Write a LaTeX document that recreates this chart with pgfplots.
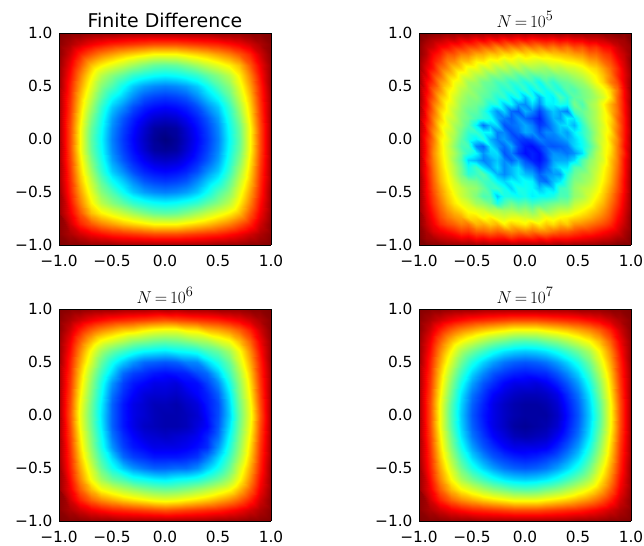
\documentclass[border=0pt]{standalone}
\usepackage[no-math]{fontspec}
\setmainfont{DejaVu Sans}
\usepackage{pgfplots}
\pgfplotsset{compat=1.18}
\pgfplotsset{colormap={jetx}{rgb(0)=(0,0,.5) rgb(11)=(0,0,1) rgb(35)=(0,1,1) rgb(50)=(.5,1,.5) rgb(65)=(1,1,0) rgb(89)=(1,0,0) rgb(100)=(.5,0,0)}}
\pgfplotsset{heat/.style={
  scale only axis,width=212bp,height=212bp,view={0}{90},
  xmin=-1,xmax=1,ymin=-1,ymax=1,axis on top,
  xtick={-1,-.5,0,.5,1},ytick={-1,-.5,0,.5,1},
  xticklabels={−1.0,−0.5,0.0,0.5,1.0},yticklabels={−1.0,−0.5,0.0,0.5,1.0},
  tick label style={font=\fontsize{15.4}{17}\selectfont,black},
  title style={font=\fontsize{19}{22}\selectfont,at={(.5,1)},anchor=base,yshift=0bp},
  major tick length=0bp,
  axis line style={black,line width=.6bp},
  xticklabel style={yshift=-7bp},yticklabel style={xshift=-3bp},
  point meta min=0,point meta max=100,colormap name=jetx,anchor=south west}}
\pgfplotsset{cell/.style={surf,shader=interp,mesh/cols=21}}
\begin{document}
\begin{tikzpicture}
\path[use as bounding box] (0bp,0bp) rectangle (644bp,546bp);
\begin{axis}[heat,at={(59bp,301bp)},title={Finite Difference}]
\addplot3[cell] table[row sep=\\,header=false,x expr={mod(\coordindex,21)/10-1},y expr={1-floor(\coordindex/21)/10},z index=0]{
100\\99\\99\\98\\98\\98\\97\\97\\97\\97\\97\\97\\97\\97\\97\\98\\98\\98\\99\\99\\100\\
99\\96\\93\\90\\88\\86\\85\\84\\83\\82\\82\\82\\83\\84\\85\\86\\88\\90\\93\\96\\99\\
99\\93\\86\\81\\77\\74\\71\\69\\67\\65\\65\\65\\67\\69\\71\\74\\77\\81\\86\\93\\99\\
98\\90\\81\\71\\66\\62\\58\\54\\50\\47\\46\\47\\50\\54\\58\\62\\66\\71\\81\\90\\98\\
98\\88\\77\\66\\57\\51\\46\\41\\38\\36\\35\\36\\38\\41\\46\\51\\57\\66\\77\\88\\98\\
98\\86\\74\\62\\51\\44\\36\\30\\26\\24\\23\\24\\26\\30\\36\\44\\51\\62\\74\\86\\98\\
97\\85\\71\\58\\46\\36\\30\\24\\19\\17\\16\\17\\19\\24\\30\\36\\46\\58\\71\\85\\97\\
97\\84\\69\\54\\41\\30\\24\\18\\14\\12\\11\\12\\14\\18\\24\\30\\41\\54\\69\\84\\97\\
97\\83\\67\\50\\38\\26\\19\\14\\10\\7\\6\\7\\10\\14\\19\\26\\38\\50\\67\\83\\97\\
97\\82\\65\\47\\36\\24\\17\\12\\7\\3\\2\\3\\7\\12\\17\\24\\36\\47\\65\\82\\97\\
97\\82\\65\\46\\35\\23\\16\\11\\6\\2\\0\\2\\6\\11\\16\\23\\35\\46\\65\\82\\97\\
97\\82\\65\\47\\36\\24\\17\\12\\7\\3\\2\\3\\7\\12\\17\\24\\36\\47\\65\\82\\97\\
97\\83\\67\\50\\38\\26\\19\\14\\10\\7\\6\\7\\10\\14\\19\\26\\38\\50\\67\\83\\97\\
97\\84\\69\\54\\41\\30\\24\\18\\14\\12\\11\\12\\14\\18\\24\\30\\41\\54\\69\\84\\97\\
97\\85\\71\\58\\46\\36\\30\\24\\19\\17\\16\\17\\19\\24\\30\\36\\46\\58\\71\\85\\97\\
98\\86\\74\\62\\51\\44\\36\\30\\26\\24\\23\\24\\26\\30\\36\\44\\51\\62\\74\\86\\98\\
98\\88\\77\\66\\57\\51\\46\\41\\38\\36\\35\\36\\38\\41\\46\\51\\57\\66\\77\\88\\98\\
98\\90\\81\\71\\66\\62\\58\\54\\50\\47\\46\\47\\50\\54\\58\\62\\66\\71\\81\\90\\98\\
99\\93\\86\\81\\77\\74\\71\\69\\67\\65\\65\\65\\67\\69\\71\\74\\77\\81\\86\\93\\99\\
99\\96\\93\\90\\88\\86\\85\\84\\83\\82\\82\\82\\83\\84\\85\\86\\88\\90\\93\\96\\99\\
100\\99\\99\\98\\98\\98\\97\\97\\97\\97\\97\\97\\97\\97\\97\\98\\98\\98\\99\\99\\100\\
};
\end{axis}
\begin{axis}[heat,at={(419bp,301bp)},title={$N\,{=}\,10^5$}]
\addplot3[surf,shader=interp,mesh/cols=31] table[row sep=\\,header=false,x expr={mod(\coordindex,31)/15-1},y expr={1-floor(\coordindex/31)/15},z index=0]{
100\\100\\99\\99\\98\\98\\98\\98\\97\\97\\97\\97\\97\\97\\96\\97\\96\\97\\97\\97\\98\\97\\98\\98\\98\\98\\99\\99\\100\\99\\100\\
100\\97\\95\\94\\92\\93\\90\\91\\88\\90\\87\\89\\86\\88\\86\\88\\86\\87\\88\\87\\89\\88\\90\\90\\92\\92\\93\\95\\96\\97\\100\\
99\\95\\93\\89\\88\\85\\85\\82\\82\\79\\80\\76\\79\\76\\78\\75\\78\\76\\79\\77\\80\\78\\82\\81\\85\\84\\88\\89\\93\\96\\98\\
99\\95\\89\\86\\81\\81\\77\\77\\73\\73\\70\\71\\68\\69\\66\\69\\67\\69\\68\\70\\71\\72\\74\\75\\79\\79\\83\\85\\91\\94\\98\\
98\\93\\87\\83\\77\\76\\71\\71\\66\\67\\63\\64\\60\\63\\60\\62\\61\\60\\62\\63\\64\\66\\67\\69\\73\\74\\79\\82\\88\\93\\99\\
98\\91\\87\\79\\76\\70\\69\\63\\63\\58\\60\\55\\57\\53\\56\\52\\55\\54\\53\\57\\56\\59\\60\\63\\67\\69\\74\\79\\85\\92\\98\\
97\\92\\83\\79\\71\\69\\62\\61\\56\\55\\50\\51\\48\\49\\45\\48\\45\\47\\49\\48\\51\\52\\55\\58\\62\\66\\71\\77\\85\\91\\97\\
98\\89\\84\\75\\71\\64\\61\\54\\53\\48\\47\\43\\44\\40\\42\\38\\42\\36\\44\\40\\45\\47\\50\\53\\58\\64\\69\\77\\82\\91\\98\\
97\\90\\80\\75\\67\\63\\57\\54\\50\\48\\45\\43\\39\\41\\36\\41\\34\\40\\36\\41\\38\\45\\44\\49\\52\\58\\63\\69\\78\\89\\98\\
98\\88\\81\\71\\67\\60\\55\\51\\51\\46\\44\\39\\41\\33\\38\\29\\38\\27\\36\\34\\44\\39\\46\\48\\51\\55\\60\\67\\79\\89\\97\\
97\\89\\78\\72\\64\\60\\53\\50\\48\\45\\38\\39\\30\\35\\26\\24\\32\\24\\34\\34\\38\\36\\49\\44\\53\\57\\65\\72\\79\\88\\98\\
98\\87\\79\\69\\64\\57\\52\\47\\46\\40\\32\\25\\31\\21\\19\\28\\24\\17\\24\\30\\26\\23\\43\\47\\51\\56\\63\\71\\78\\88\\97\\
96\\88\\77\\70\\61\\58\\51\\48\\43\\40\\37\\27\\23\\20\\25\\21\\18\\14\\21\\28\\26\\35\\33\\44\\51\\56\\63\\68\\79\\87\\97\\
97\\86\\78\\67\\63\\55\\51\\45\\34\\22\\29\\32\\19\\21\\23\\27\\23\\16\\19\\25\\31\\33\\28\\40\\49\\55\\61\\69\\77\\87\\97\\
96\\88\\76\\69\\60\\56\\48\\41\\41\\35\\35\\23\\24\\18\\21\\27\\25\\19\\24\\24\\29\\26\\34\\40\\46\\54\\62\\67\\78\\87\\96\\
97\\86\\78\\67\\62\\54\\46\\39\\34\\39\\28\\23\\26\\21\\17\\16\\18\\23\\21\\22\\24\\27\\31\\37\\46\\55\\61\\69\\76\\87\\97\\
96\\87\\77\\68\\60\\52\\44\\43\\24\\21\\33\\26\\21\\27\\18\\13\\12\\16\\20\\19\\20\\22\\31\\36\\43\\52\\62\\67\\77\\88\\96\\
97\\87\\76\\68\\61\\55\\47\\40\\35\\25\\31\\32\\19\\23\\16\\12\\14\\12\\19\\25\\24\\22\\25\\32\\46\\55\\62\\68\\77\\86\\97\\
97\\86\\77\\69\\62\\53\\45\\31\\28\\23\\26\\30\\24\\20\\25\\18\\14\\12\\17\\26\\27\\27\\32\\44\\51\\56\\61\\70\\77\\88\\97\\
97\\88\\78\\70\\63\\56\\48\\37\\42\\32\\26\\32\\24\\28\\32\\23\\21\\15\\20\\28\\33\\33\\44\\46\\53\\57\\64\\70\\78\\88\\97\\
98\\88\\79\\71\\65\\57\\49\\40\\42\\45\\36\\28\\24\\28\\33\\29\\27\\20\\24\\26\\26\\39\\47\\51\\53\\59\\65\\71\\79\\88\\98\\
98\\89\\80\\72\\66\\60\\53\\50\\48\\43\\41\\35\\31\\35\\33\\36\\34\\23\\21\\29\\33\\42\\50\\52\\55\\60\\66\\72\\80\\89\\98\\
98\\89\\81\\74\\68\\62\\58\\54\\52\\47\\41\\42\\37\\31\\38\\37\\35\\29\\33\\31\\42\\44\\52\\56\\58\\62\\68\\74\\81\\89\\98\\
98\\90\\83\\76\\70\\65\\59\\55\\50\\44\\44\\30\\38\\38\\36\\38\\34\\36\\36\\38\\44\\44\\52\\55\\60\\65\\70\\76\\83\\90\\98\\
98\\91\\84\\78\\72\\67\\63\\60\\54\\52\\48\\38\\44\\48\\44\\46\\42\\44\\46\\48\\50\\50\\57\\60\\63\\68\\72\\78\\84\\91\\98\\
98\\92\\86\\80\\75\\71\\68\\64\\62\\60\\56\\56\\54\\55\\52\\54\\50\\56\\52\\55\\58\\58\\62\\65\\68\\71\\75\\80\\86\\92\\98\\
99\\93\\88\\82\\78\\75\\73\\68\\68\\64\\66\\62\\60\\62\\62\\60\\58\\60\\64\\62\\65\\66\\68\\70\\72\\75\\78\\82\\88\\93\\99\\
99\\94\\90\\85\\82\\80\\77\\78\\72\\73\\70\\72\\66\\70\\68\\66\\70\\66\\70\\68\\72\\70\\75\\76\\78\\80\\82\\85\\90\\94\\99\\
99\\96\\92\\90\\88\\86\\83\\84\\80\\80\\78\\80\\78\\76\\78\\76\\78\\76\\76\\78\\80\\80\\82\\84\\84\\86\\88\\90\\92\\96\\99\\
100\\97\\96\\94\\93\\92\\90\\91\\88\\89\\87\\88\\88\\85\\87\\87\\86\\88\\86\\88\\88\\88\\89\\90\\91\\92\\93\\94\\96\\97\\100\\
100\\100\\99\\99\\98\\98\\98\\98\\97\\98\\97\\97\\97\\97\\97\\97\\97\\97\\97\\97\\98\\97\\98\\98\\98\\98\\99\\99\\100\\100\\100\\
};
\end{axis}
\begin{axis}[heat,at={(59bp,25bp)},title={$N\,{=}\,10^6$}]
\addplot3[cell] table[row sep=\\,header=false,x expr={mod(\coordindex,21)/10-1},y expr={1-floor(\coordindex/21)/10},z index=0]{
100\\99\\99\\98\\98\\98\\97\\97\\97\\96\\97\\96\\97\\97\\97\\98\\98\\98\\99\\99\\100\\
99\\96\\93\\90\\88\\86\\85\\84\\83\\82\\81\\82\\83\\84\\85\\86\\88\\90\\93\\96\\99\\
99\\93\\86\\80\\76\\73\\70\\69\\66\\64\\63\\63\\66\\67\\71\\73\\76\\80\\86\\93\\99\\
98\\90\\80\\71\\64\\60\\56\\52\\50\\48\\47\\48\\50\\53\\55\\60\\64\\71\\80\\90\\98\\
98\\88\\76\\64\\54\\47\\42\\38\\35\\34\\33\\35\\36\\38\\43\\47\\54\\64\\76\\88\\98\\
98\\86\\73\\60\\47\\37\\30\\25\\21\\20\\19\\20\\23\\24\\31\\38\\47\\60\\73\\86\\98\\
97\\85\\70\\55\\42\\31\\21\\17\\15\\13\\12\\13\\14\\18\\21\\30\\42\\55\\70\\85\\97\\
97\\84\\68\\52\\38\\25\\17\\13\\11\\9\\9\\8\\11\\12\\17\\24\\37\\52\\68\\84\\97\\
97\\83\\66\\50\\36\\22\\15\\11\\8\\7\\7\\6\\8\\11\\14\\20\\33\\50\\66\\83\\97\\
97\\82\\64\\48\\34\\20\\13\\9\\7\\5\\5\\4\\6\\8\\13\\18\\31\\48\\64\\82\\97\\
97\\81\\63\\47\\33\\20\\13\\9\\7\\5\\4\\4\\5\\7\\12\\18\\30\\47\\63\\81\\97\\
97\\82\\64\\48\\34\\20\\13\\9\\6\\5\\4\\4\\5\\8\\11\\19\\32\\48\\64\\82\\97\\
97\\83\\66\\50\\36\\22\\15\\11\\8\\7\\6\\7\\8\\10\\14\\21\\35\\50\\66\\83\\97\\
97\\84\\68\\52\\38\\25\\17\\13\\11\\9\\9\\9\\10\\12\\15\\25\\38\\52\\68\\84\\97\\
97\\85\\70\\55\\42\\31\\21\\17\\15\\13\\13\\13\\14\\16\\22\\31\\42\\55\\70\\85\\97\\
98\\86\\73\\60\\47\\37\\30\\25\\22\\20\\20\\21\\21\\24\\30\\37\\47\\60\\73\\86\\98\\
98\\88\\76\\64\\54\\47\\43\\38\\36\\34\\33\\35\\36\\38\\42\\47\\54\\64\\76\\88\\98\\
98\\90\\80\\71\\64\\60\\56\\53\\50\\48\\47\\48\\50\\53\\56\\60\\64\\71\\80\\90\\98\\
99\\93\\86\\80\\76\\73\\70\\68\\66\\64\\63\\64\\66\\68\\70\\73\\76\\80\\86\\93\\99\\
99\\96\\93\\90\\88\\86\\85\\84\\83\\82\\81\\82\\83\\84\\85\\86\\88\\90\\93\\96\\99\\
100\\99\\99\\98\\98\\98\\97\\97\\97\\97\\97\\97\\97\\97\\97\\98\\98\\98\\99\\99\\100\\
};
\end{axis}
\begin{axis}[heat,at={(419bp,25bp)},title={$N\,{=}\,10^7$}]
\addplot3[cell] table[row sep=\\,header=false,x expr={mod(\coordindex,21)/10-1},y expr={1-floor(\coordindex/21)/10},z index=0]{
100\\99\\99\\98\\98\\98\\97\\97\\97\\97\\97\\97\\97\\97\\97\\98\\98\\98\\99\\99\\100\\
99\\96\\93\\90\\88\\86\\85\\84\\83\\82\\82\\82\\83\\84\\85\\86\\88\\90\\93\\96\\99\\
99\\93\\86\\80\\76\\73\\70\\68\\66\\64\\64\\64\\66\\68\\70\\73\\76\\80\\86\\93\\99\\
98\\90\\80\\71\\65\\60\\55\\51\\48\\45\\44\\45\\48\\51\\55\\60\\65\\71\\80\\90\\98\\
98\\88\\76\\65\\55\\48\\42\\37\\33\\31\\30\\31\\33\\37\\42\\48\\55\\65\\76\\88\\98\\
98\\86\\73\\60\\48\\38\\31\\26\\22\\20\\19\\20\\22\\26\\31\\38\\48\\60\\73\\86\\98\\
97\\85\\70\\55\\42\\31\\24\\19\\16\\14\\13\\14\\15\\19\\24\\31\\42\\55\\70\\85\\97\\
97\\84\\68\\51\\37\\26\\19\\15\\11\\9\\9\\8\\10\\14\\19\\26\\37\\51\\68\\84\\97\\
97\\83\\66\\48\\33\\22\\16\\11\\8\\6\\5\\5\\6\\9\\15\\22\\33\\48\\66\\83\\97\\
97\\82\\64\\45\\31\\20\\14\\9\\6\\4\\3\\3\\4\\7\\13\\20\\31\\45\\64\\82\\97\\
97\\82\\64\\44\\30\\19\\13\\9\\6\\4\\3\\3\\3\\6\\12\\19\\30\\44\\64\\82\\97\\
97\\82\\64\\45\\31\\20\\14\\9\\6\\3\\2\\3\\4\\7\\13\\20\\31\\45\\64\\82\\97\\
97\\83\\66\\48\\33\\22\\16\\11\\8\\5\\4\\5\\6\\10\\15\\22\\33\\48\\66\\83\\97\\
97\\84\\68\\51\\37\\26\\19\\15\\11\\9\\9\\9\\10\\14\\19\\26\\37\\51\\68\\84\\97\\
97\\85\\70\\55\\42\\31\\24\\19\\16\\14\\13\\14\\16\\19\\24\\31\\42\\55\\70\\85\\97\\
98\\86\\73\\60\\48\\38\\31\\26\\22\\20\\19\\20\\22\\26\\31\\38\\48\\60\\73\\86\\98\\
98\\88\\76\\65\\55\\48\\42\\37\\33\\31\\30\\31\\33\\37\\42\\48\\55\\65\\76\\88\\98\\
98\\90\\80\\71\\65\\60\\55\\51\\48\\45\\44\\45\\48\\51\\55\\60\\65\\71\\80\\90\\98\\
99\\93\\86\\80\\76\\73\\70\\68\\66\\64\\64\\64\\66\\68\\70\\73\\76\\80\\86\\93\\99\\
99\\96\\93\\90\\88\\86\\85\\84\\83\\82\\82\\82\\83\\84\\85\\86\\88\\90\\93\\96\\99\\
100\\99\\99\\98\\98\\98\\97\\97\\97\\97\\97\\97\\97\\97\\97\\98\\98\\98\\99\\99\\100\\
};
\end{axis}
\end{tikzpicture}
\end{document}
